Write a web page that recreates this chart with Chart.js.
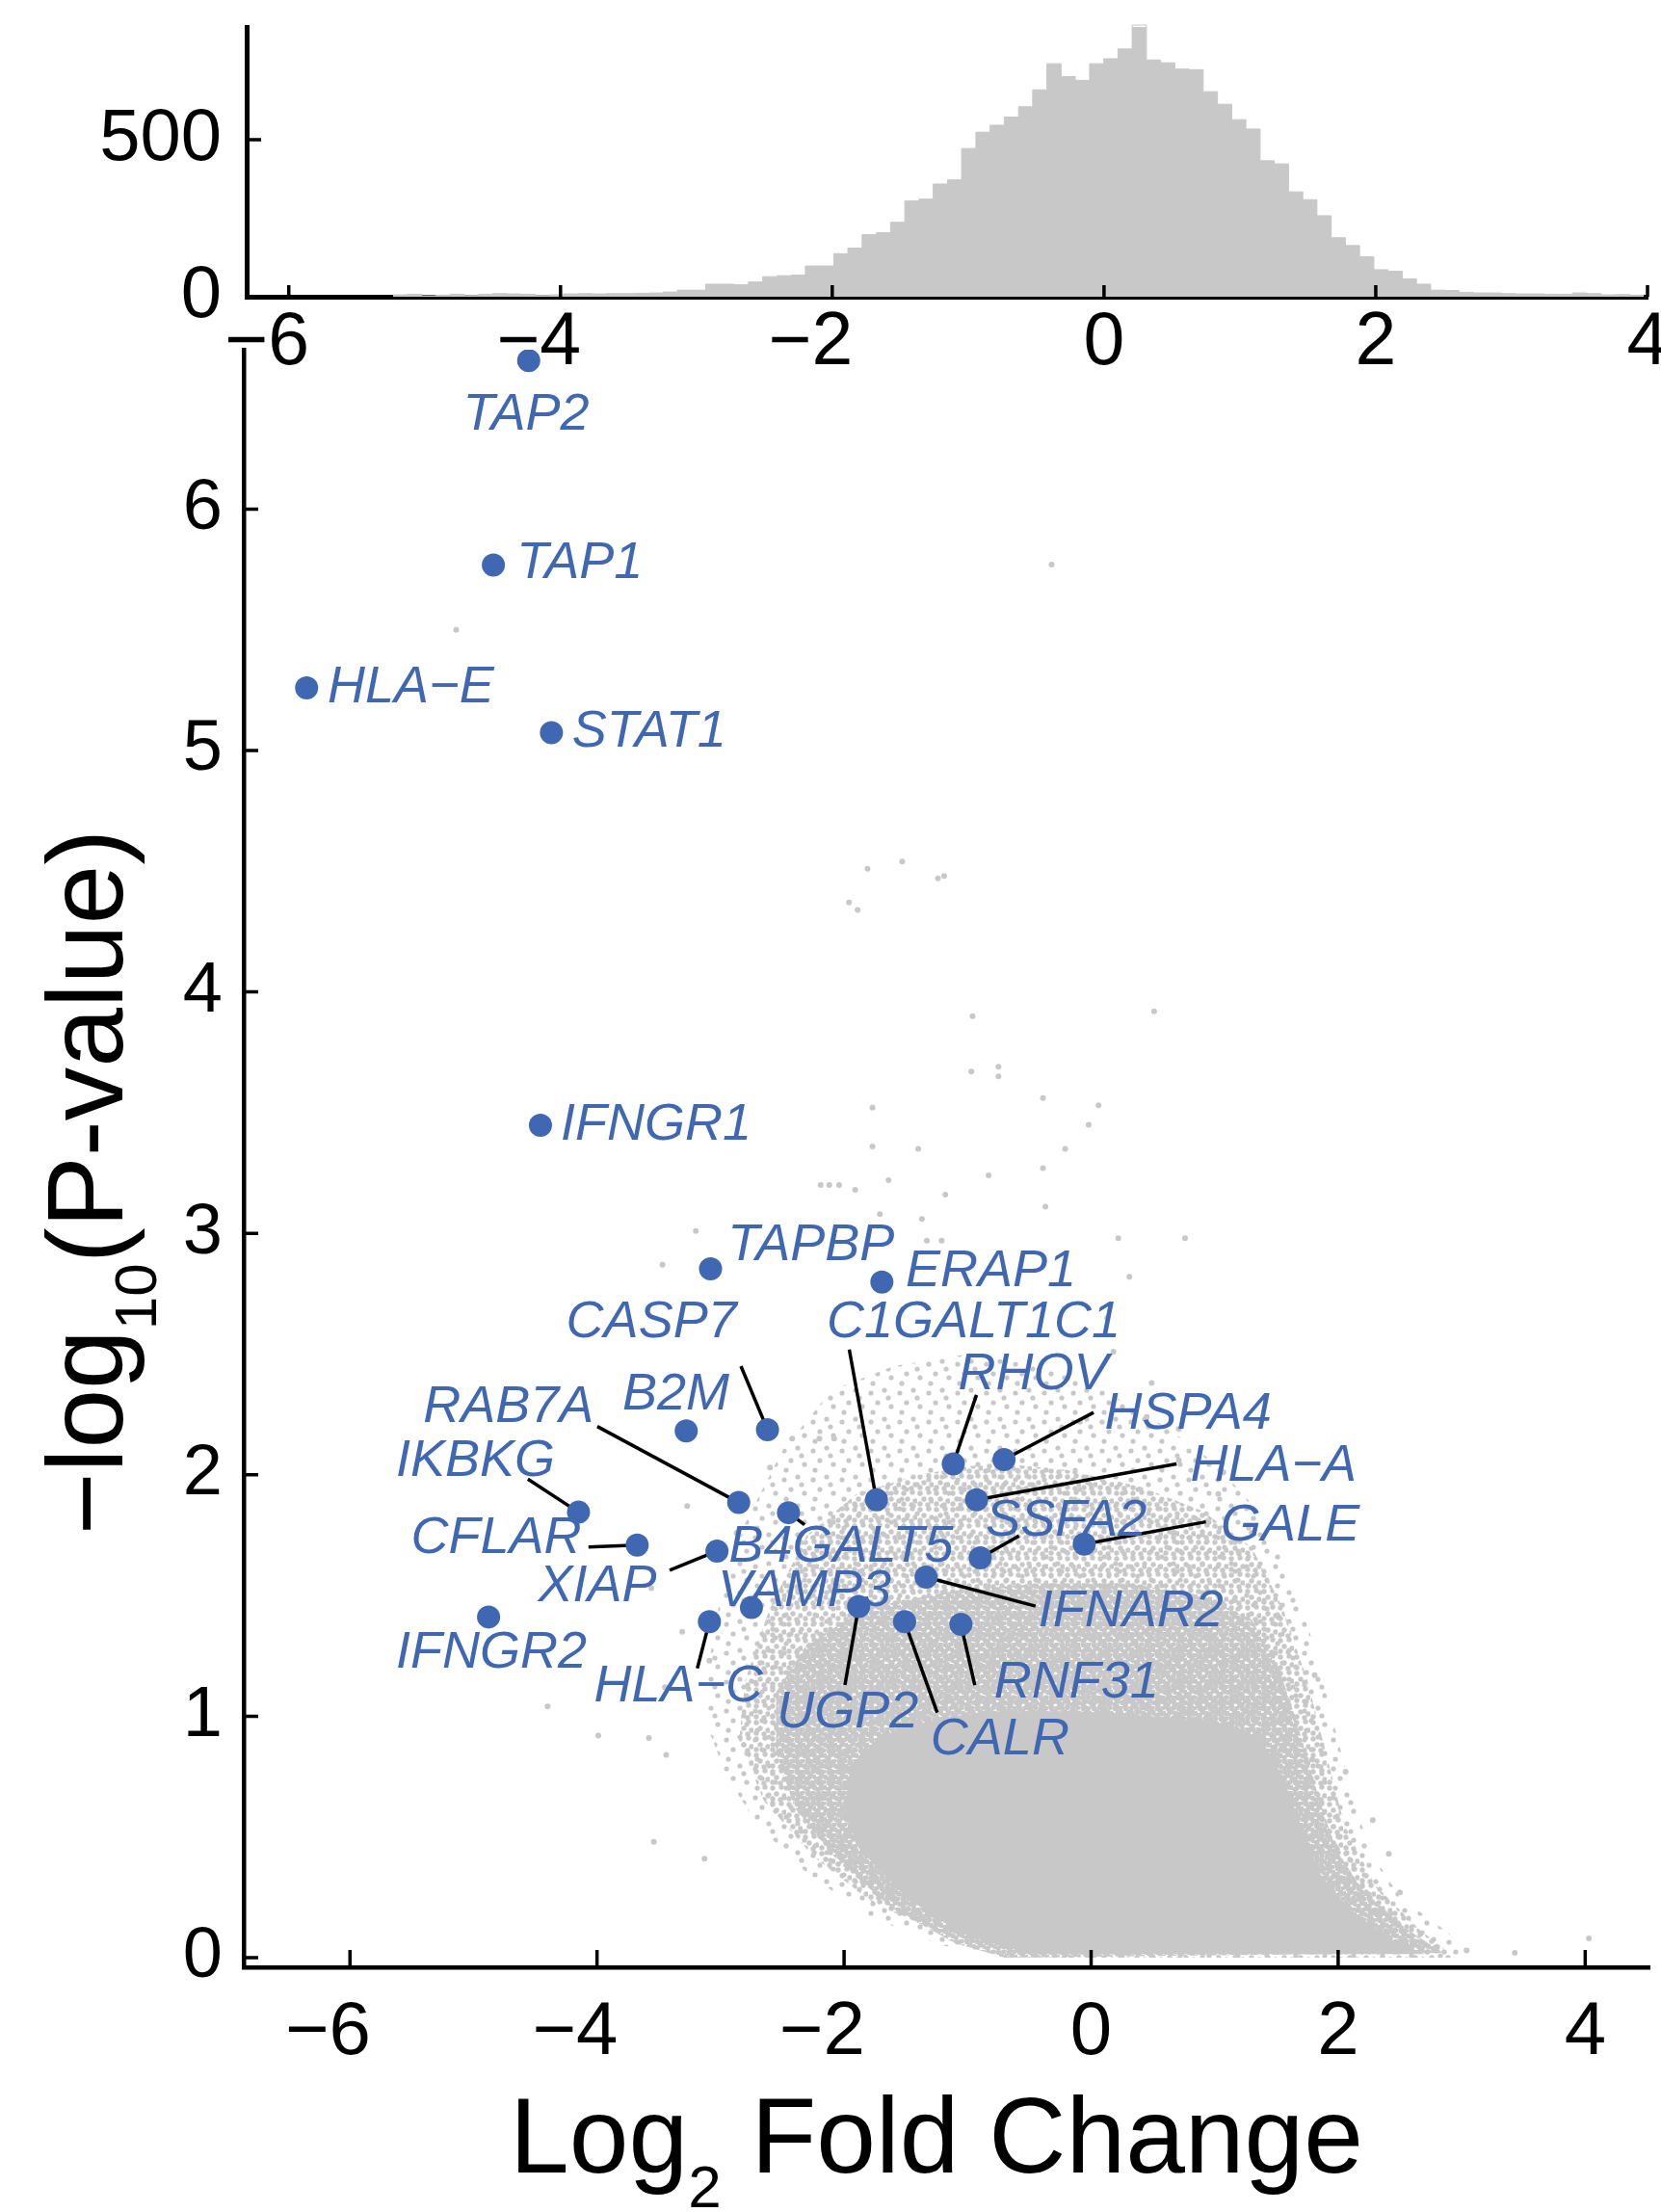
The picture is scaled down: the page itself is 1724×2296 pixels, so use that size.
<!DOCTYPE html>
<html>
<head>
<meta charset="utf-8">
<title>Volcano plot with fold-change histogram</title>
<script src="https://cdn.jsdelivr.net/npm/chart.js@4.4.1/dist/chart.umd.min.js"></script>
<style>
  html, body { margin: 0; padding: 0; background: #fff; }
  #wrap { position: relative; width: 1724px; height: 2296px; }
  canvas { position: absolute; left: 0; top: 0; }
</style>
</head>
<body>
<div id="wrap">
  <canvas id="volcano" width="1724" height="2296"></canvas>
  <canvas id="hist" width="1724" height="420"></canvas>
</div>
<script>
// ---- top panel: histogram of log2 fold change ----
const histEdges = [
  -5.232, -5.127, -5.023, -4.918, -4.813, -4.709, -4.604, -4.500, -4.395, -4.290,
  -4.186, -4.081, -3.977, -3.872, -3.767, -3.663, -3.558, -3.454, -3.349, -3.244,
  -3.140, -3.035, -2.931, -2.826, -2.721, -2.617, -2.512, -2.408, -2.303, -2.198,
  -2.094, -1.989, -1.885, -1.780, -1.675, -1.571, -1.466, -1.362, -1.257, -1.152,
  -1.048, -0.943, -0.839, -0.734, -0.629, -0.525, -0.420, -0.316, -0.211, -0.106,
  -0.002, 0.103, 0.207, 0.312, 0.417, 0.521, 0.626, 0.730, 0.835, 0.940,
  1.044, 1.149, 1.253, 1.358, 1.463, 1.567, 1.672, 1.776, 1.881, 1.986,
  2.090, 2.195, 2.299, 2.404, 2.509, 2.613, 2.718, 2.822, 2.927, 3.032,
  3.136, 3.241, 3.345, 3.450, 3.555, 3.659, 3.764, 3.868, 3.973
];
const histCounts = [
  6, 8, 3, 5, 8, 4, 8, 10, 9, 8,
  4, 6, 9, 10, 9, 10, 10, 11, 12, 15,
  21, 21, 40, 40, 38, 47, 64, 67, 69, 98,
  98, 137, 155, 198, 204, 237, 305, 311, 359, 372,
  472, 524, 546, 572, 605, 659, 742, 701, 689, 742,
  758, 789, 865, 754, 745, 725, 723, 653, 613, 564,
  534, 433, 423, 334, 309, 258, 188, 163, 127, 86,
  81, 57, 40, 21, 20, 14, 12, 12, 10, 9,
  9, 8, 8, 12, 10, 6, 7, 5
];
const histXTicks = [-6, -4, -2, 0, 2, 4];
const histYTicks = [0, 500];

// ---- main panel: volcano plot ----
const volcanoXTicks = [-6, -4, -2, 0, 2, 4];
const volcanoYTicks = [0, 1, 2, 3, 4, 5, 6];

// outline of the solid, fully packed part of the gene cloud
const coreFC = [-0.5, 2.7, 2.4, 2.08, 1.85, 1.7, 1.55, 1.38, 1.1, 0.5, -0.1, -0.7, -1.25, -1.7, -1.95, -2.0, -1.82, -1.5, -1.05];
const coreP  = [0.015, 0.015, 0.08, 0.2, 0.35, 0.55, 0.75, 0.9, 0.97, 1.0, 1.02, 1.02, 0.99, 0.92, 0.78, 0.6, 0.42, 0.25, 0.1];
// outline of the heavily dotted ring just around it
const denseFC = [-0.7, 2.85, 2.55, 2.2, 1.98, 1.82, 1.68, 1.52, 1.3, 0.9, 0.3, -0.4, -1.1, -1.8, -2.3, -2.55, -2.55, -2.4, -2.05, -1.6, -1.1];
const denseP  = [0.0, 0.02, 0.12, 0.28, 0.45, 0.7, 0.95, 1.2, 1.4, 1.5, 1.55, 1.55, 1.52, 1.45, 1.3, 1.1, 0.85, 0.62, 0.4, 0.2, 0.06];
// outline of the medium dotted zone
const midFC = [-0.4, 2.95, 2.65, 2.3, 2.05, 1.9, 1.75, 1.55, 1.3, 0.9, 0.4, -0.2, -0.8, -1.4, -1.9, -2.3, -2.6, -2.8, -2.85, -2.65, -2.25, -1.75, -1.1];
const midP  = [0.0, 0.0, 0.12, 0.3, 0.55, 0.85, 1.15, 1.45, 1.7, 1.85, 1.95, 2.02, 2.05, 2.0, 1.92, 1.75, 1.45, 1.15, 0.9, 0.65, 0.42, 0.22, 0.08];
// outline of the thinly dotted outer zone
const outerFC = [-0.6, 3.0, 2.9, 2.5, 2.25, 2.1, 1.95, 1.8, 1.6, 1.35, 1.0, 0.6, 0.1, -0.4, -1.0, -1.6, -2.1, -2.5, -2.8, -3.0, -3.1, -3.1, -2.95, -2.7, -2.3, -1.8, -1.2];
const outerP  = [0.0, 0.0, 0.1, 0.25, 0.45, 0.7, 1.0, 1.3, 1.6, 1.85, 2.05, 2.2, 2.35, 2.45, 2.5, 2.45, 2.35, 2.1, 1.8, 1.5, 1.2, 0.95, 0.75, 0.55, 0.35, 0.17, 0.05];

// isolated grey genes
const sparseFC = [-0.32, -5.14, -1.81, -1.53, -1.24, -1.19, -1.96, -1.89, -0.96, 0.51,
  -0.97, -0.75, -0.75, -0.39, 0.06, -0.02, -0.21, -1.77, -1.77, -1.40,
  -0.39, -0.83, -1.64, -2.19, -2.12, -2.04, -1.91, -1.18, -0.37, -1.71,
  -1.37, -3.20, 0.22, 0.76, -1.33, -1.21, 0.31, -3.47, 0.13, -2.20,
  -2.08, -0.09, 0.45, 0.71, 1.03, 0.67, 1.30, 1.52, 1.81, 1.79,
  2.01, 2.28, 1.52, 1.16, 1.07, -3.54, -3.13, -3.58, -3.45, -3.09,
  -3.31, -3.56, -2.87, -2.60, -2.42, -3.27, 3.04, 3.43, 4.03, -4.40,
  -3.99, -3.44, 0.71, 0.18, 0.49, 2.06, 2.41, 2.50];
const sparseP = [5.77, 5.50, 4.51, 4.54, 4.47, 4.48, 4.37, 4.34, 3.90, 3.92,
  3.67, 3.69, 3.65, 3.56, 3.53, 3.45, 3.35, 3.52, 3.36, 3.35,
  3.27, 3.24, 3.22, 3.20, 3.20, 3.20, 3.18, 3.16, 3.11, 3.08,
  3.06, 3.01, 2.98, 2.98, 2.97, 2.97, 2.82, 2.87, 2.65, 2.15,
  2.15, 2.22, 2.24, 2.06, 1.92, 1.76, 1.76, 1.41, 1.17, 0.82,
  0.50, 0.57, 1.16, 1.48, 2.01, 0.48, 0.41, 0.91, 1.12, 1.23,
  1.35, 1.53, 1.76, 2.03, 2.15, 1.87, 0.03, 0.02, 0.08, 1.04,
  0.92, 0.84, 2.19, 2.51, 2.38, 0.77, 0.43, 0.27];

// highlighted genes: point, label anchor (left / middle), leader start (null = no leader)
const genes = ['TAP2', 'TAP1', 'HLA\u2212E', 'STAT1', 'IFNGR1', 'TAPBP', 'ERAP1', 'CASP7', 'C1GALT1C1',
  'RHOV', 'HSPA4', 'HLA\u2212A', 'SSFA2', 'GALE', 'IFNAR2', 'RNF31', 'CALR', 'UGP2', 'VAMP3',
  'HLA\u2212C', 'B4GALT5', 'RAB7A', 'B2M', 'IKBKG', 'CFLAR', 'XIAP', 'IFNGR2'];
const geneFC = [-4.553, -4.839, -6.351, -4.369, -4.458, -3.081, -1.694, -2.620, -1.738,
  -1.116, -0.705, -0.928, -0.897, -0.056, -1.336, -1.054, -1.510, -1.882, -2.750,
  -3.090, -2.450, -2.853, -3.278, -4.150, -3.675, -3.029, -4.878];
const geneP = [6.615, 5.768, 5.259, 5.074, 3.448, 2.853, 2.798, 2.187, 1.896,
  2.045, 2.063, 1.896, 1.656, 1.713, 1.576, 1.381, 1.392, 1.454, 1.450,
  1.392, 1.843, 1.885, 2.182, 1.845, 1.709, 1.684, 1.411];
const labelFC = [-5.086, -4.651, -6.181, -4.203, -4.293, -2.942, -1.501, -4.250, -2.141,
  -1.076, 0.110, 0.803, -0.852, 1.050, -0.427, -0.785, -1.300, -2.544, -3.023,
  -4.025, -2.933, -5.408, -3.795, -5.628, -5.507, -4.478, -5.628];
const labelP = [6.39, 5.775, 5.259, 5.074, 3.448, 2.95, 2.84, 2.63, 2.629,
  2.416, 2.251, 2.034, 1.809, 1.789, 1.434, 1.136, 0.900, 1.015, 1.518,
  1.121, 1.701, 2.280, 2.329, 2.057, 1.734, 1.536, 1.262];
const leaderFC = [null, null, null, null, null, null, null, -2.835, -1.958,
  -0.928, 0.020, 0.692, -0.584, 0.929, -0.450, -0.942, -1.246, -1.993, null,
  -3.188, -2.320, -3.998, null, -4.560, -4.069, -3.412, null];
const leaderP = [null, null, null, null, null, null, null, 2.45, 2.519,
  2.331, 2.258, 2.045, 1.747, 1.805, 1.456, 1.129, 1.015, 1.129, null,
  1.198, 1.793, 2.20, null, 1.982, 1.701, 1.605, null];

const FONT = "'Liberation Sans', Arial, Helvetica, sans-serif";
const BLUE = '#4068b2';
const GREY = '#c8c8c8';

Chart.defaults.font.family = FONT;

// dotted fill, to mimic a crowd of overlapping grey markers
function dotPattern(ctx, size, dots, r) {
  const tile = document.createElement('canvas');
  tile.width = tile.height = size;
  const g = tile.getContext('2d');
  g.fillStyle = GREY;
  dots.forEach(([dx, dy]) => {
    g.beginPath();
    g.arc(dx, dy, r, 0, Math.PI * 2);
    g.fill();
  });
  return ctx.createPattern(tile, 'repeat');
}

// text with one subscript part
function drawSubText(ctx, parts, x0, base, size, subSize, subDrop) {
  let x = x0;
  parts.forEach(p => {
    ctx.font = `${p.sub ? subSize : size}px ${FONT}`;
    ctx.fillText(p.t, x, p.sub ? base + subDrop : base);
    x += ctx.measureText(p.t).width;
  });
}
function subTextWidth(ctx, parts, size, subSize) {
  return parts.reduce((w, p) => {
    ctx.font = `${p.sub ? subSize : size}px ${FONT}`;
    return w + ctx.measureText(p.t).width;
  }, 0);
}

// inward tick marks, tick labels (digit centred on tick, minus hanging left)
const axisDecor = {
  id: 'axisDecor',
  afterDraw(chart, args, o) {
    const { ctx, chartArea: a, scales: { x, y } } = chart;
    ctx.save();
    ctx.strokeStyle = '#000';
    ctx.lineWidth = o.tickWidth;
    ctx.beginPath();
    x.ticks.forEach(t => {
      const px = x.getPixelForValue(t.value);
      ctx.moveTo(px, a.bottom);
      ctx.lineTo(px, a.bottom - o.xTickLen);
    });
    y.ticks.forEach(t => {
      const py = y.getPixelForValue(t.value);
      ctx.moveTo(a.left, py);
      ctx.lineTo(a.left + o.yTickLen, py);
    });
    ctx.stroke();

    ctx.fillStyle = '#000';
    ctx.textBaseline = 'middle';
    ctx.font = `${o.xFont}px ${FONT}`;
    x.ticks.forEach(t => {
      const px = x.getPixelForValue(t.value);
      const digits = String(Math.abs(t.value));
      const start = px - ctx.measureText(digits).width / 2;
      ctx.textAlign = 'left';
      ctx.fillText(digits, start, o.xLabelY);
      if (t.value < 0) {
        ctx.textAlign = 'right';
        ctx.fillText('\u2212', start, o.xLabelY);
      }
    });
    ctx.font = `${o.yFont}px ${FONT}`;
    ctx.textAlign = 'right';
    y.ticks.forEach(t => {
      ctx.fillText(String(t.value), a.left - o.yGap, y.getPixelForValue(t.value));
    });

    if (o.titles) {
      ctx.textBaseline = 'alphabetic';
      ctx.textAlign = 'left';
      const xt = [{ t: 'Log' }, { t: '2', sub: true }, { t: ' Fold Change' }];
      const wx = subTextWidth(ctx, xt, 111, 62);
      drawSubText(ctx, xt, 972 - wx / 2, 2255, 111, 62, 36);

      const yt = [{ t: '\u2212log' }, { t: '10', sub: true }, { t: '(P-value)' }];
      const wy = subTextWidth(ctx, yt, 111, 62);
      ctx.translate(127, 1227);
      ctx.rotate(-Math.PI / 2);
      drawSubText(ctx, yt, -wy / 2, 0, 111, 62, 35);
    }
    ctx.restore();
  }
};

const geneLabels = {
  id: 'geneLabels',
  afterDatasetsDraw(chart) {
    const { ctx, scales: { x, y } } = chart;
    ctx.save();
    ctx.font = `italic 54px ${FONT}`;
    ctx.fillStyle = BLUE;
    ctx.textAlign = 'left';
    ctx.textBaseline = 'middle';
    genes.forEach((g, i) => {
      ctx.fillText(g, x.getPixelForValue(labelFC[i]), y.getPixelForValue(labelP[i]));
    });
    ctx.restore();
  }
};

function fixTicks(values) {
  return scale => { scale.ticks = values.map(v => ({ value: v })); };
}
function polygon(xs, ys) {
  const pts = xs.map((v, i) => ({ x: v, y: ys[i] }));
  pts.push(pts[0]);
  return pts;
}

// ---- histogram ----
const histPoints = histCounts.map((c, i) => ({ x: histEdges[i], y: c }));
histPoints.push({ x: histEdges[histEdges.length - 1], y: histCounts[histCounts.length - 1] });

new Chart(document.getElementById('hist'), {
  type: 'line',
  data: {
    datasets: [{
      data: histPoints,
      stepped: true,
      fill: 'origin',
      backgroundColor: GREY,
      borderColor: GREY,
      borderWidth: 1,
      pointRadius: 0,
      clip: false
    }]
  },
  options: {
    responsive: false,
    animation: false,
    events: [],
    layout: { padding: { top: 28, right: 14, left: 0, bottom: 0 } },
    scales: {
      x: {
        type: 'linear', min: -6.31, max: 4.0,
        afterBuildTicks: fixTicks(histXTicks),
        afterFit: s => { s.height = 112; },
        grid: { display: false },
        ticks: { display: false },
        border: { color: '#000', width: 5 }
      },
      y: {
        type: 'linear', min: 0, max: 859,
        afterBuildTicks: fixTicks(histYTicks),
        afterFit: s => { s.width = 256; },
        grid: { display: false },
        ticks: { display: false },
        border: { color: '#000', width: 5 }
      }
    },
    plugins: {
      legend: { display: false },
      tooltip: { enabled: false },
      axisDecor: { tickWidth: 3.5, xTickLen: 12, yTickLen: 15, xFont: 77, yFont: 76, xLabelY: 357, yGap: 26, titles: false }
    }
  },
  plugins: [axisDecor]
});

// ---- volcano ----
const vctx = document.getElementById('volcano').getContext('2d');
const denseFill = dotPattern(vctx, 11, [[2.5, 2.5], [8, 1.5], [5.5, 6], [10, 7.5], [2, 9.5]], 2.8);
const midFill = dotPattern(vctx, 17, [[3, 3], [12, 2], [7, 9], [15, 11], [3, 14], [11, 15]], 2.7);
const outerFill = dotPattern(vctx, 30, [[4, 6], [18, 3], [11, 16], [25, 20], [6, 26], [22, 11]], 2.6);

const datasets = [
  {
    type: 'scatter',
    data: genes.map((g, i) => ({ x: geneFC[i], y: geneP[i] })),
    pointRadius: 12, backgroundColor: BLUE, borderWidth: 0, order: 0
  },
  ...genes.map((g, i) => leaderFC[i] === null ? null : {
    type: 'line',
    data: [{ x: leaderFC[i], y: leaderP[i] }, { x: geneFC[i], y: geneP[i] }],
    borderColor: '#000', borderWidth: 3.5, pointRadius: 0, fill: false, order: 1
  }).filter(Boolean),
  {
    type: 'scatter',
    data: sparseFC.map((v, i) => ({ x: v, y: sparseP[i] })),
    pointRadius: 3, backgroundColor: GREY, borderWidth: 0, order: 2
  },
  {
    type: 'line', data: polygon(coreFC, coreP), fill: 'shape',
    backgroundColor: GREY, borderColor: 'rgba(0,0,0,0)', borderWidth: 1, pointRadius: 0, tension: 0, order: 3
  },
  {
    type: 'line', data: polygon(denseFC, denseP), fill: 'shape',
    backgroundColor: denseFill, borderColor: 'rgba(0,0,0,0)', borderWidth: 1, pointRadius: 0, tension: 0, order: 4
  },
  {
    type: 'line', data: polygon(midFC, midP), fill: 'shape',
    backgroundColor: midFill, borderColor: 'rgba(0,0,0,0)', borderWidth: 1, pointRadius: 0, tension: 0, order: 5
  },
  {
    type: 'line', data: polygon(outerFC, outerP), fill: 'shape',
    backgroundColor: outerFill, borderColor: 'rgba(0,0,0,0)', borderWidth: 1, pointRadius: 0, tension: 0, order: 6
  }
];

new Chart(vctx, {
  type: 'scatter',
  data: { datasets },
  options: {
    responsive: false,
    animation: false,
    events: [],
    layout: { padding: { top: 363, right: 11, left: 0, bottom: 0 } },
    scales: {
      x: {
        type: 'linear', min: -6.86, max: 4.52,
        afterBuildTicks: fixTicks(volcanoXTicks),
        afterFit: s => { s.height = 254; },
        grid: { display: false },
        ticks: { display: false },
        border: { color: '#000', width: 4.5 }
      },
      y: {
        type: 'linear', min: -0.04, max: 6.66,
        afterBuildTicks: fixTicks(volcanoYTicks),
        afterFit: s => { s.width = 253; },
        grid: { display: false },
        ticks: { display: false },
        border: { color: '#000', width: 4.5 }
      }
    },
    plugins: {
      legend: { display: false },
      tooltip: { enabled: false },
      axisDecor: { tickWidth: 3.5, xTickLen: 18, yTickLen: 15, xFont: 78, yFont: 74, xLabelY: 2110, yGap: 22, titles: true }
    }
  },
  plugins: [axisDecor, geneLabels]
});
</script>
</body>
</html>
